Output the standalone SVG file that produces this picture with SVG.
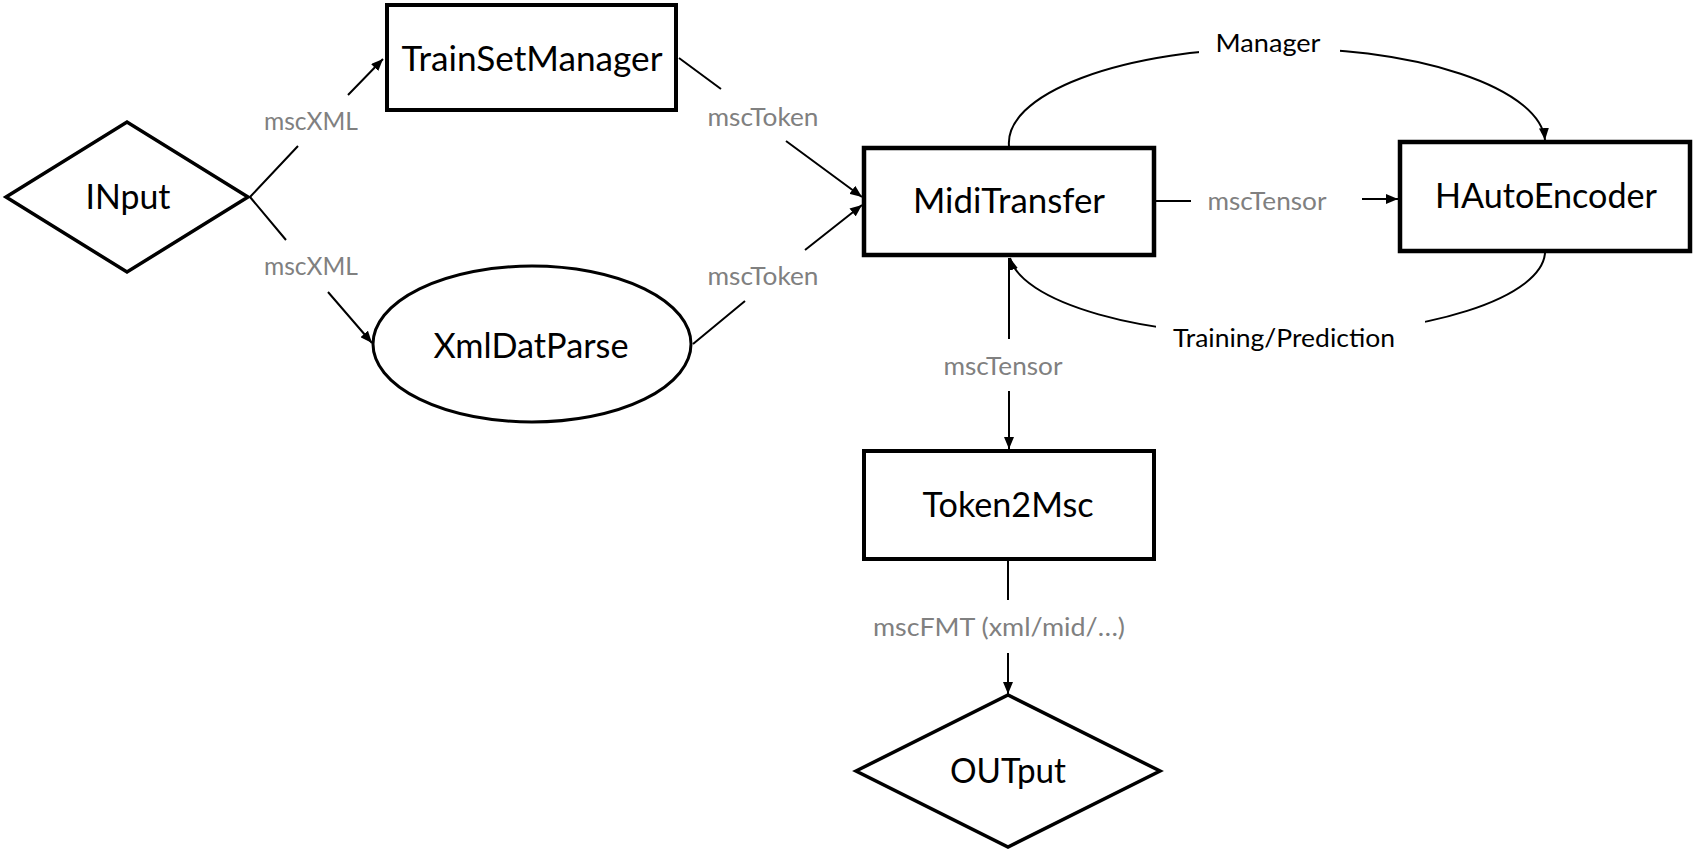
<svg xmlns="http://www.w3.org/2000/svg" width="1694" height="850" viewBox="0 0 1694 850">
  <defs>
    <marker id="arrow" viewBox="0 0 12 10" refX="12" refY="5" markerWidth="12" markerHeight="10" markerUnits="userSpaceOnUse" orient="auto">
      <path d="M0,0 L12,5 L0,10 z" fill="#000"/>
    </marker>
    <style>
      .node { fill: #fff; stroke: #000; }
      .ntext { font-family: Lato, Carlito, "Liberation Sans", sans-serif; font-size: 35px; fill: #000; text-anchor: middle; }
      .conn { fill: none; stroke: #000; stroke-width: 2; }
      .lbl { font-family: Lato, Carlito, "Liberation Sans", sans-serif; font-size: 25px; fill: #808080; text-anchor: middle; }
      .lblb { font-family: Lato, Carlito, "Liberation Sans", sans-serif; font-size: 25px; fill: #000; text-anchor: middle; }
      .mask { fill: #fff; stroke: none; }
    </style>
  </defs>
  <rect width="1694" height="850" fill="#fff"/>

  <g id="connectors">
    <path class="conn" d="M250,197 L298,146 M348,95 L383,59" marker-end="url(#arrow)"/>
    <path class="conn" d="M250,197 L286,240 M328,292 L372,343" marker-end="url(#arrow)"/>
    <path class="conn" d="M679,58 L721,89 M786,141 L862,197" marker-end="url(#arrow)"/>
    <path class="conn" d="M693,344 L745,301 M805,250 L862,205" marker-end="url(#arrow)"/>
    <path class="conn" d="M1156,201 L1191,201 M1362,199 L1398,199" marker-end="url(#arrow)"/>
    <path class="conn" d="M1009,146 A268,95 0 0 1 1545,140" marker-end="url(#arrow)"/>
    <path class="conn" d="M1545,253 A268,85 0 0 1 1010,258" marker-end="url(#arrow)"/>
    <path class="conn" d="M1009,258 L1009,339 M1009,391 L1009,449" marker-end="url(#arrow)"/>
    <path class="conn" d="M1008,561 L1008,600 M1008,653 L1008,694" marker-end="url(#arrow)"/>
    <rect class="mask" x="1199" y="28" width="141" height="40"/>
    <rect class="mask" x="1156" y="312" width="269" height="48"/>
    <text class="lbl" x="311" y="130" textLength="94" lengthAdjust="spacingAndGlyphs">mscXML</text>
    <text class="lbl" x="311" y="275" textLength="94" lengthAdjust="spacingAndGlyphs">mscXML</text>
    <text class="lbl" x="763" y="126" textLength="111" lengthAdjust="spacingAndGlyphs">mscToken</text>
    <text class="lbl" x="763" y="285" textLength="111" lengthAdjust="spacingAndGlyphs">mscToken</text>
    <text class="lbl" x="1267" y="210" textLength="119" lengthAdjust="spacingAndGlyphs">mscTensor</text>
    <text class="lbl" x="1003" y="375" textLength="119" lengthAdjust="spacingAndGlyphs">mscTensor</text>
    <text class="lbl" x="999" y="636" textLength="252" lengthAdjust="spacingAndGlyphs">mscFMT (xml/mid/…)</text>
    <text class="lblb" x="1268" y="52" textLength="105" lengthAdjust="spacingAndGlyphs">Manager</text>
    <text class="lblb" x="1284" y="347" textLength="222" lengthAdjust="spacingAndGlyphs">Training/Prediction</text>
  </g>

  <g id="INput">
    <polygon class="node" stroke-width="3.5" points="6,197 127,122 248,197 127,272"/>
    <text class="ntext" x="128" y="209" textLength="85" lengthAdjust="spacingAndGlyphs">INput</text>
  </g>
  <g id="TrainSetManager">
    <rect class="node" stroke-width="4" x="387" y="5" width="289" height="105"/>
    <text class="ntext" x="532" y="71" textLength="261" lengthAdjust="spacingAndGlyphs">TrainSetManager</text>
  </g>
  <g id="XmlDatParse">
    <ellipse class="node" stroke-width="3" cx="532" cy="344" rx="159" ry="78"/>
    <text class="ntext" x="531" y="358" textLength="195" lengthAdjust="spacingAndGlyphs">XmlDatParse</text>
  </g>
  <g id="MidiTransfer">
    <rect class="node" stroke-width="4.5" x="864" y="148" width="290" height="107"/>
    <text class="ntext" x="1009" y="213" textLength="192" lengthAdjust="spacingAndGlyphs">MidiTransfer</text>
  </g>
  <g id="HAutoEncoder">
    <rect class="node" stroke-width="4.5" x="1400" y="142" width="290" height="109"/>
    <text class="ntext" x="1546" y="208" textLength="222" lengthAdjust="spacingAndGlyphs">HAutoEncoder</text>
  </g>
  <g id="Token2Msc">
    <rect class="node" stroke-width="4" x="864" y="451" width="290" height="108"/>
    <text class="ntext" x="1008" y="517" textLength="171" lengthAdjust="spacingAndGlyphs">Token2Msc</text>
  </g>
  <g id="OUTput">
    <polygon class="node" stroke-width="3.5" points="856,771 1008,695 1160,771 1008,847"/>
    <text class="ntext" x="1008" y="783" textLength="116" lengthAdjust="spacingAndGlyphs">OUTput</text>
  </g>
</svg>
